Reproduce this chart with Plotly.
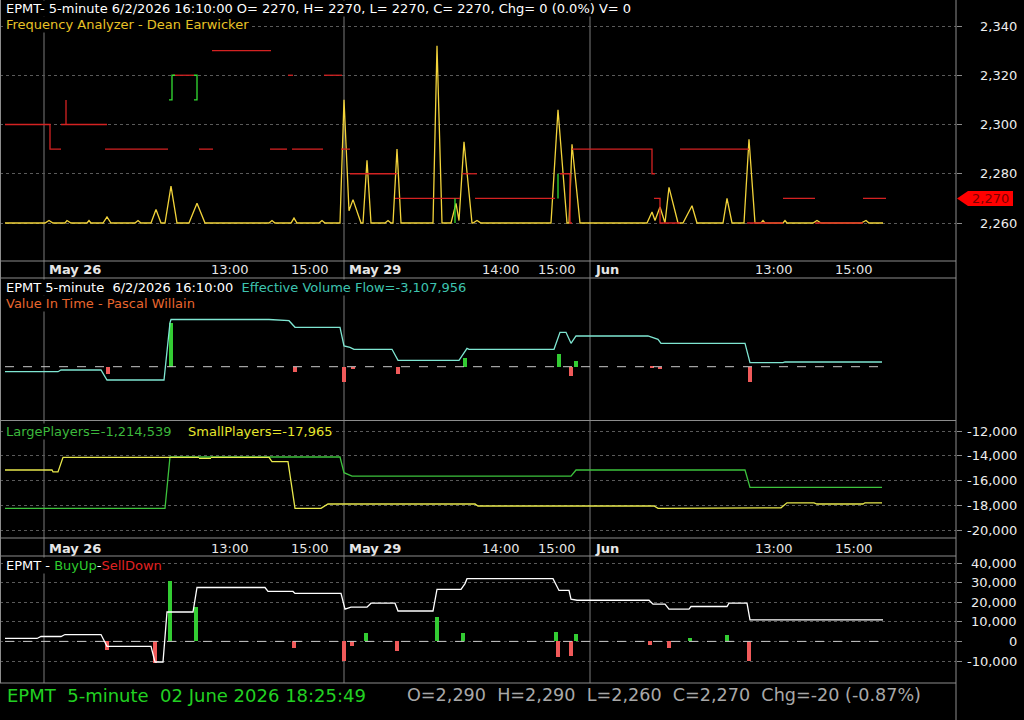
import plotly.graph_objects as go

# ---------------- data (x = bar index, 5-minute bars) ----------------
tick_idx = [9.75, 50.25, 70.25, 84.75, 118, 132, 146.25, 186.25, 206.25]
tick_text = ["May 26", "13:00", "15:00", "May 29", "14:00", "15:00", "Jun", "13:00", "15:00"]
tick_bold = [True, False, False, True, False, False, True, False, False]
day_breaks = [9.75, 84.75, 146.25]

price_ticks = [2260, 2280, 2300, 2320, 2340]
players_ticks = [-12000, -14000, -16000, -18000, -20000]
buysell_ticks = [-10000, 0, 10000, 20000, 30000, 40000]
last_price = 2270

# Frequency Analyzer - yellow spectrum line
fa_x = [0, 10, 11, 12, 15, 15.5, 16.5, 20.5, 21, 21.5, 24.5, 25.5, 26.5, 32.5, 33.25, 34,
        36.5, 37.75, 39, 40, 41.5, 43, 46, 48, 50, 66, 66.75, 67.5, 71.5, 72.25, 73,
        78.5, 79.25, 80, 83.75, 84.75, 86, 87, 89, 89.5, 90.5, 91.5, 95, 95.75, 96.5,
        97, 98, 99, 107, 108, 109.25, 111.5, 112.75, 113.5, 114.75, 116.75, 117, 118, 119,
        136.5, 138.25, 140.5, 141, 141.75, 143.75, 160.5, 161.75, 162.5, 163.75, 165, 166,
        168.25, 169.5, 171.75, 173, 179.5, 180.5, 181.75, 184.75, 186, 187.5, 189, 189.5,
        190, 194.5, 195, 195.5, 202, 203, 204, 214, 215.25, 216, 219.5]
fa_y = [2260, 2260, 2261, 2260, 2260, 2261, 2260, 2260, 2261, 2260, 2260, 2262.5, 2260, 2260, 2261, 2260,
        2260, 2265.5, 2260, 2260, 2275, 2260, 2260, 2268, 2260, 2260, 2261, 2260, 2260, 2262, 2260,
        2260, 2261, 2260, 2260, 2310, 2265, 2269.5, 2260, 2260, 2285.5, 2260, 2260, 2261, 2260,
        2260, 2290, 2260, 2260, 2332, 2260, 2260, 2268, 2261, 2293, 2260, 2260, 2261, 2260,
        2260, 2306, 2260, 2260, 2292, 2260, 2260, 2264.5, 2261, 2266.5, 2260, 2274.5,
        2260, 2260, 2267, 2260, 2260, 2270, 2260, 2260, 2294, 2260, 2260, 2261,
        2260, 2260, 2261, 2260, 2260, 2261, 2260, 2260, 2261, 2260, 2260]

# Frequency Analyzer - dominant level (red), None = gap
lvl_x = [0, 11.25, 11.25, 14, None,
         14, 15.25, 15.25, 15.25, 25.5, None,
         25, 40.75, None,
         42, 47.25, None,
         48.5, 52, None,
         51.75, 66.5, None,
         66.25, 70.5, None,
         70.75, 72, None,
         71.75, 79.5, None,
         79.75, 84.25, None,
         84, 86.25, None,
         86.25, 98, None,
         97.5, 113.75, None,
         114.25, 118, None,
         117.5, 137.5, None,
         138.75, 141.25, 141.25, 141.75, None,
         141.75, 161.75, 161.75, 162.5, None,
         162.25, 163.75, 163.75, 168.75, None,
         168.75, 186, None,
         185.5, 194.5, None,
         194.5, 202.5, None,
         202.5, 214.5, None,
         214.5, 220.25]
lvl_y = [2300, 2300, 2290, 2290, None,
         2300, 2300, 2310, 2300, 2300, None,
         2290, 2290, None,
         2320, 2320, None,
         2290, 2290, None,
         2330, 2330, None,
         2290, 2290, None,
         2320, 2320, None,
         2290, 2290, None,
         2320, 2320, None,
         2290, 2290, None,
         2280, 2280, None,
         2270, 2270, None,
         2280, 2280, None,
         2270, 2270, None,
         2280, 2280, 2260, 2260, None,
         2290, 2290, 2280, 2280, None,
         2270, 2270, 2260, 2260, None,
         2290, 2290, None,
         2260, 2260, None,
         2270, 2270, None,
         2260, 2260, None,
         2270, 2270]
up_x = [41, 41.75, 41.75, 42.5, None, 47.25, 48, 48, 47.25, None, 112.5, 112.5, None, 138.25, 138.25]
up_y = [2310, 2310, 2320, 2320, None, 2320, 2320, 2310, 2310, None, 2260, 2270, None, 2270, 2280]

# Effective Volume Flow line / Value In Time histogram
evf_x = [0, 13.25, 14, 24, 25.5, 39.75, 41.25, 41.5, 66, 71, 72.5, 83.75, 84.75, 86.25, 87.25,
         96.75, 98.25, 113.5, 115.5, 116, 137.25, 138.75, 140.25, 141.5, 142.75, 160.75,
         163.25, 164, 185, 186.25, 194.5, 195, 219.25]
evf_y = [-250000, -250000, -165000, -165000, -665000, -665000, 2200000, 2360000, 2360000, 2300000,
         1970000, 1970000, 1035000, 970000, 870000, 870000, 320000, 320000, 920000, 870000, 870000,
         1720000, 1720000, 1170000, 1535000, 1535000, 1370000, 1170000, 1170000, 200000, 200000,
         235000, 235000]
vit_x = [25.75, 41.5, 72.5, 84.75, 87, 98.25, 115, 138.5, 141.5, 142.75, 161.75, 163.75, 186.25]
vit_y = [-365000, 2200000, -280000, -750000, -130000, -380000, 420000, 635000, -450000, 285000,
         -80000, -130000, -750000]

# Large / small players
large_x = [0, 40, 41.25, 83.75, 84.75, 86.75, 141.5, 142.75, 185, 186.25, 219.25]
large_y = [-18250, -18250, -14100, -14100, -15370, -15640, -15640, -15150, -15150, -16550, -16550]
small_x = [0, 11.75, 12, 13.25, 14.5, 48.5, None, 48.5, 51.5, None, 51.5, 66, 66.75, 70.75, 72.5,
           79, 80.75, 117.5, 118.25, 162.25, 163.25, 168.5, 168.75, 194, 195.5, 202.25, 203,
           214.5, 215, 219.25]
small_y = [-15150, -15150, -15300, -15300, -14130, -14130, None, -14210, -14210, None, -14130, -14130,
           -14480, -14480, -18250, -18250, -17900, -17900, -18060, -18060, -18250, -18250, -18200,
           -18200, -17800, -17800, -17900, -17900, -17800, -17800]

# BuyUp - SellDown
bs_x = [0, 8, 9, 14, 15, 24, 25.5, 36.5, 37.5, 39.5, 40.5, 47, 48, 65, 65.75, 72, 72.5, 84, 85,
        86.5, 90.5, 91.5, 97.5, 98.25, 107, 108, 114, 115, 115.5, 137, 138.5, 141, 141.5, 143,
        161, 162, 165, 166, 171, 171.5, 180.5, 181, 185.5, 186.25, 219.5]
bs_y = [1500, 1500, 2500, 2500, 3500, 3500, -2500, -2500, -10500, -10500, 15000, 15000, 27500,
        27500, 25500, 25500, 24500, 24500, 16500, 17500, 17500, 19500, 19500, 15500, 15500, 26500,
        26500, 29500, 32000, 32000, 26000, 26000, 21500, 21000, 21000, 19000, 19000, 16500, 16500,
        17800, 17800, 19500, 19500, 11000, 11000]
bsh_x = [25.5, 37.5, 41.25, 47.75, 72.25, 84.75, 86.75, 90.25, 98, 108, 114.5, 137.75, 138.25,
         141.5, 142.75, 161.25, 166, 171.25, 180.5, 186]
bsh_y = [-4500, -11000, 30600, 17500, -3500, -10000, -2500, 4500, -5000, 12500, 4500, 5000, -8000,
         -7500, 4000, -2000, -3500, 1800, 3500, -10000]

# ---------------- figure ----------------
W, H = 1024, 720
PX_R = 956
XR = [-1.25, 237.75]
FONT = "DejaVu Sans"
BG = "#000000"
GRID = "#5a5a5a"
BORDER = "#8c8c8c"

def py(p):
    return 1 - p / H

def px(p):
    return p / W

dom = {1: [py(261), 1], 2: [py(420), py(279)], 3: [py(538), py(421)], 4: [py(683), py(557)]}
yr = {1: [2244.57, 2350.56], 2: [-2665000, 4385000], 3: [-20646, -11192], 4: [-21224, 43061]}
yt = {1: price_ticks, 2: [], 3: players_ticks, 4: buysell_ticks}

fig = go.Figure()

def ax(k):
    return ("x" if k == 1 else f"x{k}"), ("y" if k == 1 else f"y{k}")

# panel 1
fig.add_trace(go.Scatter(x=fa_x, y=fa_y, mode="lines", line=dict(color="#F2D33A", width=1.3),
                         xaxis="x", yaxis="y", hoverinfo="skip"))
fig.add_trace(go.Scatter(x=lvl_x, y=lvl_y, mode="lines", line=dict(color="#D42222", width=1.3),
                         connectgaps=False, xaxis="x", yaxis="y", hoverinfo="skip"))
fig.add_trace(go.Scatter(x=up_x, y=up_y, mode="lines", line=dict(color="#33DD33", width=1.3),
                         connectgaps=False, xaxis="x", yaxis="y", hoverinfo="skip"))

# panel 2
fig.add_trace(go.Scatter(x=[0, 220], y=[0, 0], mode="lines", line=dict(color="#C8C8C8", width=1, dash="dash"),
                         xaxis="x2", yaxis="y2", hoverinfo="skip"))
fig.add_trace(go.Bar(x=vit_x, y=vit_y, width=0.8,
                     marker=dict(color=["#33CC33" if v > 0 else "#F05A5A" for v in vit_y], line=dict(width=0)),
                     xaxis="x2", yaxis="y2", hoverinfo="skip"))
fig.add_trace(go.Scatter(x=evf_x, y=evf_y, mode="lines", line=dict(color="#7FE6D2", width=1.3),
                         xaxis="x2", yaxis="y2", hoverinfo="skip"))

# panel 3
fig.add_trace(go.Scatter(x=large_x, y=large_y, mode="lines", line=dict(color="#3CC23C", width=1.3),
                         xaxis="x3", yaxis="y3", hoverinfo="skip"))
fig.add_trace(go.Scatter(x=small_x, y=small_y, mode="lines", line=dict(color="#E8E84C", width=1.3),
                         connectgaps=False, xaxis="x3", yaxis="y3", hoverinfo="skip"))

# panel 4
fig.add_trace(go.Scatter(x=[0, 220], y=[0, 0], mode="lines", line=dict(color="#C8C8C8", width=1, dash="dash"),
                         xaxis="x4", yaxis="y4", hoverinfo="skip"))
fig.add_trace(go.Bar(x=bsh_x, y=bsh_y, width=0.8,
                     marker=dict(color=["#33CC33" if v > 0 else "#F05A5A" for v in bsh_y], line=dict(width=0)),
                     xaxis="x4", yaxis="y4", hoverinfo="skip"))
fig.add_trace(go.Scatter(x=bs_x, y=bs_y, mode="lines", line=dict(color="#FFFFFF", width=1.3),
                         xaxis="x4", yaxis="y4", hoverinfo="skip"))

layout = dict(width=W, height=H, paper_bgcolor=BG, plot_bgcolor=BG, showlegend=False,
              margin=dict(l=0, r=0, t=0, b=0), bargap=0, font=dict(family=FONT, size=13, color="#E8E8E8"))
for k in range(1, 5):
    xn, yn = ax(k)
    xkey = "xaxis" if k == 1 else f"xaxis{k}"
    ykey = "yaxis" if k == 1 else f"yaxis{k}"
    layout[xkey] = dict(domain=[0, px(PX_R)], range=XR, anchor=yn, showgrid=False, zeroline=False,
                        showticklabels=False, ticks="", showline=False, fixedrange=True)
    layout[ykey] = dict(domain=dom[k], range=yr[k], anchor=xn, side="right", tickvals=yt[k],
                        showgrid=bool(yt[k]), gridcolor=GRID, griddash="dot", gridwidth=1,
                        zeroline=False, showticklabels=False, ticks="outside" if yt[k] else "",
                        ticklen=5, tickcolor=BORDER, showline=False, fixedrange=True)
fig.update_layout(**layout)

shapes = []
# panel borders
for yy in [261, 278, 420.5, 538, 556, 683]:
    shapes.append(dict(type="line", xref="paper", yref="paper", x0=0, x1=px(PX_R), y0=py(yy), y1=py(yy),
                       line=dict(color=BORDER, width=1)))
shapes.append(dict(type="line", xref="paper", yref="paper", x0=px(PX_R), x1=px(PX_R), y0=0, y1=1,
                   line=dict(color=BORDER, width=1)))
shapes.append(dict(type="line", xref="paper", yref="paper", x0=px(0.5), x1=px(0.5), y0=py(683), y1=1,
                   line=dict(color=BORDER, width=1)))
# day separators
for d in day_breaks:
    shapes.append(dict(type="line", xref="x", yref="paper", x0=d, x1=d, y0=py(683), y1=1,
                       line=dict(color="#7a7a7a", width=1), layer="below"))
# last price tag
h = 7.5 / 2.4625
shapes.append(dict(type="path", xref="paper", yref="y",
                   path=f"M {px(957)},{last_price} L {px(968)},{last_price - h} L {px(1013)},{last_price - h} "
                        f"L {px(1013)},{last_price + h} L {px(968)},{last_price + h} Z",
                   fillcolor="#FF0000", line=dict(width=0)))
fig.update_layout(shapes=shapes)

ann = []
# right axis labels
for k in (1, 3, 4):
    _, yn = ax(k)
    for v in yt[k]:
        ann.append(dict(x=px(1019), xref="paper", xanchor="right", y=v, yref=yn, yanchor="middle",
                        text=f"{v:,}", showarrow=False, font=dict(family=FONT, size=13, color="#EDEDED")))
ann.append(dict(x=px(990), xref="paper", xanchor="center", y=last_price, yref="y", yanchor="middle",
                text=f"{last_price:,}", showarrow=False, font=dict(family=FONT, size=13, color="#7A0000")))
# time axis labels (two rows)
for row_y in (269.5, 548):
    for t, lab, b in zip(tick_idx, tick_text, tick_bold):
        ann.append(dict(x=t, xref="x", xanchor="left", xshift=3, y=py(row_y), yref="paper", yanchor="middle",
                        text=f"<b>{lab}</b>" if b else lab, showarrow=False,
                        font=dict(family=FONT, size=13, color="#E6E6E6")))

def head(text, ypix, color="#FFFFFF", size=13):
    ann.append(dict(x=px(5), xref="paper", xanchor="left", y=py(ypix), yref="paper", yanchor="middle",
                    text=text, showarrow=False, bgcolor=BG, borderpad=0,
                    font=dict(family=FONT, size=size, color=color)))

head("EPMT- 5-minute 6/2/2026 16:10:00 O= 2270, H= 2270, L= 2270, C= 2270, Chg= 0 (0.0%) V= 0", 9)
head("Frequency Analyzer - Dean Earwicker", 25, "#E8C226")
head("EPMT 5-minute\u00a0 6/2/2026 16:10:00\u00a0 <span style='color:#3EC4B0'>Effective Volume Flow=-3,107,956</span>", 287)
head("Value In Time - Pascal Willain", 303, "#E8662E")
head("<span style='color:#3CB83C'>LargePlayers=-1,214,539</span>\u00a0\u00a0\u00a0 "
     "<span style='color:#E6E62E'>SmallPlayers=-17,965</span>", 431)
head("EPMT - <span style='color:#2ECC2E'>BuyUp</span>-<span style='color:#E02222'>SellDown</span>", 565)

# status bar
ann.append(dict(x=px(5), xref="paper", xanchor="left", y=py(695), yref="paper", yanchor="middle",
                text="EPMT\u00a0 5-minute\u00a0 02 June 2026 18:25:49", showarrow=False,
                font=dict(family=FONT, size=18, color="#22D022")))
ann.append(dict(x=px(405), xref="paper", xanchor="left", y=py(695), yref="paper", yanchor="middle",
                text="O=2,290\u00a0 H=2,290\u00a0 L=2,260\u00a0 C=2,270\u00a0 Chg=-20 (-0.87%)", showarrow=False,
                font=dict(family=FONT, size=17.6, color="#A8A8A8")))
fig.update_layout(annotations=ann)

fig.write_html("out.html", config={"displayModeBar": False})
